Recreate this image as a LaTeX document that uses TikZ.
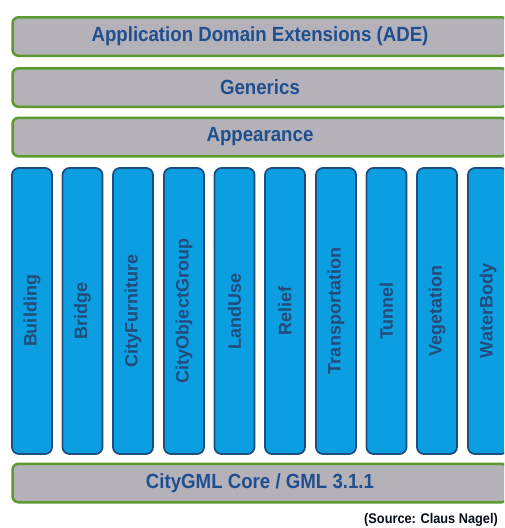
\documentclass[tikz,border=0pt]{standalone}
\usepackage{fontspec}
\setmainfont{Liberation Sans}
\newfontfamily\narrowfont{Liberation Sans}[FakeStretch=0.91]
\usetikzlibrary{positioning}

\definecolor{layergrey}{HTML}{B4B1B9}
\definecolor{layergreen}{HTML}{5C9A30}
\definecolor{layertext}{HTML}{1F4F8F}
\definecolor{moduleblue}{HTML}{0B9EE0}
\definecolor{moduleline}{HTML}{1C4F7F}
\definecolor{moduletext}{HTML}{234B7B}

\begin{document}
\begin{tikzpicture}[x=1pt, y=-1pt,
  layer/.style={draw=layergreen, line width=2.5pt, fill=layergrey, rounded corners=6pt,
    minimum width=495pt, minimum height=38.5pt, inner sep=0pt, text=layertext,
    font=\narrowfont\bfseries\fontsize{20.5}{22}\selectfont},
  module/.style={draw=moduleline, line width=1.8pt, fill=moduleblue, rounded corners=7pt,
    rotate=90, minimum width=286pt, minimum height=40pt, inner sep=0pt, text=moduletext,
    font=\bfseries\fontsize{18}{20}\selectfont}]
\clip (0,0) rectangle (504,528);

%% upper layers
\node[layer](ade) at (260,36.5){Application Domain Extensions (ADE)};
\node[layer](generics) at (260,87.5){Generics};
\node[layer](appearance) at (260,137){Appearance};

%% thematic modules
\node[module](building) at (32,311){Building};
\node[module](bridge) at (82.5,311){Bridge};
\node[module](city_furniture) at (133,311){CityFurniture};
\node[module](city_object_group) at (184,311){CityObjectGroup};
\node[module](land_use) at (234.5,311){LandUse};
\node[module](relief) at (285,311){Relief};
\node[module](transportation) at (336,311){Transportation};
\node[module](tunnel) at (386.5,311){Tunnel};
\node[module](vegetation) at (437,311){Vegetation};
\node[module](water_body) at (488,311){WaterBody};

%% core
\node[layer](core) at (260,483){CityGML Core / GML 3.1.1};

\node[anchor=east, text=black!85!layertext, inner sep=0pt,
  font=\narrowfont\bfseries\fontsize{14}{16}\selectfont] (source) at (498,520){(Source: Claus Nagel)};

\end{tikzpicture}
\end{document}
